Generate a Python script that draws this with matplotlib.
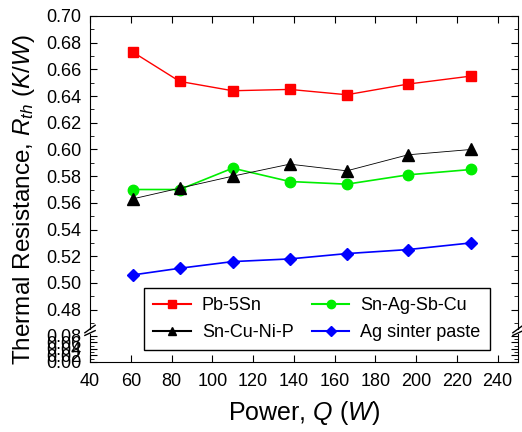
import matplotlib
matplotlib.use('Agg')
import matplotlib.pyplot as plt
from matplotlib.ticker import MultipleLocator, FormatStrFormatter
from matplotlib.lines import Line2D

plt.rcParams['font.family'] = 'Liberation Sans'
plt.rcParams['mathtext.fontset'] = 'custom'
plt.rcParams['mathtext.rm'] = 'Liberation Sans'
plt.rcParams['mathtext.it'] = 'Liberation Sans:italic'

# data
power = [61, 84, 110, 138, 166, 196, 227]
pb5sn = [0.673, 0.651, 0.644, 0.645, 0.641, 0.649, 0.655]
snagsbcu = [0.570, 0.570, 0.586, 0.576, 0.574, 0.581, 0.585]
sncunip = [0.563, 0.571, 0.580, 0.589, 0.584, 0.596, 0.600]
ag_sinter = [0.506, 0.511, 0.516, 0.518, 0.522, 0.525, 0.530]

W, H = 522, 432
fig = plt.figure(figsize=(W / 100, H / 100), dpi=100)

left, right = 90 / W, 518 / W
top_px, brk_top, brk_bot, bot_px = 16, 329, 334, 362
ax = fig.add_axes([left, 1 - brk_top / H, right - left, (brk_top - top_px) / H])
axl = fig.add_axes([left, 1 - bot_px / H, right - left, (bot_px - brk_bot) / H])

series = [
    ('Pb-5Sn', pb5sn, 'red', 's', 6.5, 1.0),
    ('Sn-Ag-Sb-Cu', snagsbcu, '#00ee00', 'o', 7.5, 1.2),
    ('Sn-Cu-Ni-P', sncunip, 'black', '^', 8, 0.6),
    ('Ag sinter paste', ag_sinter, 'blue', 'D', 6.5, 1.2),
]
handles = {}
for name, vals, col, mk, ms, lw in series:
    ax.plot(power, vals, color=col, marker=mk, markersize=ms, linewidth=lw)
    handles[name] = Line2D([], [], color=col, marker=mk, markersize=ms * 0.8,
                           linewidth=1.5)

ax.set_xlim(40, 250)
axl.set_xlim(40, 250)
ax.set_ylim(0.4655, 0.70)
axl.set_ylim(0, 0.085)

ax.spines['bottom'].set_visible(False)
axl.spines['top'].set_visible(False)
for a in (ax, axl):
    a.xaxis.set_major_locator(MultipleLocator(20))
    a.yaxis.set_major_locator(MultipleLocator(0.02))
    a.yaxis.set_minor_locator(MultipleLocator(0.01))
    a.yaxis.set_major_formatter(FormatStrFormatter('%.2f'))
    a.tick_params(axis='y', which='major', direction='in', left=True, right=True,
                  length=5, labelsize=13, pad=6)
    a.tick_params(axis='y', which='minor', direction='in', left=True, right=True,
                  length=3)

ax.tick_params(axis='x', which='both', direction='in', top=True, bottom=False,
               labelbottom=False, length=5)
axl.tick_params(axis='x', which='both', direction='in', top=False, bottom=True,
                length=5, labelsize=13, pad=8)

# break marks
d = 0.012
kw = dict(color='black', clip_on=False, linewidth=1)
for x0 in (0, 1):
    ax.plot([x0 - d, x0 + d], [-0.012, 0.012], transform=ax.transAxes, **kw)
    axl.plot([x0 - d, x0 + d], [1 - 0.05, 1 + 0.12], transform=axl.transAxes, **kw)

fig.text(24 / W, 1 - 200 / H, 'Thermal Resistance, $R_{th}$ ($K/W$)', rotation=90,
         ha='center', va='center', fontsize=17.5)
fig.text(304 / W, 1 - 413 / H, 'Power, $Q$ ($W$)', ha='center',
         va='center', fontsize=18)

order = ['Pb-5Sn', 'Sn-Cu-Ni-P', 'Sn-Ag-Sb-Cu', 'Ag sinter paste']
fig.legend([handles[k] for k in order], order, loc='upper left', ncol=2,
           bbox_to_anchor=(144 / W, 1 - 288 / H), borderaxespad=0, fontsize=13,
           frameon=True, fancybox=False, edgecolor='black', framealpha=1,
           handlelength=2.1, handletextpad=0.6, columnspacing=1.0,
           borderpad=0.5, labelspacing=0.55)

fig.savefig('out.png', dpi=100)
